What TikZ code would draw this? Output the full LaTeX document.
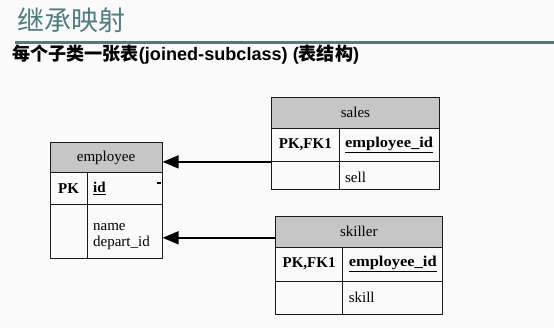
\documentclass[tikz,border=0pt]{standalone}
\usepackage{fontspec}
\setmainfont{Liberation Serif}
\newfontfamily\cjk{Noto Sans CJK SC}
\newfontfamily\lsans{Liberation Sans}
\usetikzlibrary{arrows.meta}
\definecolor{bgc}{HTML}{FAFAFA}
\definecolor{titlec}{HTML}{4E7C80}
\definecolor{headc}{HTML}{C6C6C6}
\definecolor{linec}{HTML}{1A1A1A}
\tikzset{
  cell/.style={draw=linec, line width=0.9pt, inner sep=0pt, anchor=north west, font=\fontsize{15}{17}\selectfont},
  headcell/.style={cell, fill=headc},
  lcell/.style={cell, align=left, inner xsep=6pt},
  fkarrow/.style={draw=black, line width=1.6pt, -{Triangle[length=16pt,width=13pt]}},
}
\begin{document}
\begin{tikzpicture}[x=1pt,y=-1pt]
\useasboundingbox[fill=bgc] (0,0) rectangle (554,328);
% title
\node[anchor=west, inner sep=0pt, text=titlec, font=\cjk\fontsize{27}{30}\selectfont] (title) at (17,20) {继承映射};
\draw[titlec, line width=3pt] (15,43) coordinate (rl) -- (554,43) coordinate (rr);
\node[anchor=west, inner sep=0pt, font=\bfseries\fontsize{18.1}{20}\selectfont] (subtitle) at (12,55)
  {{\cjk 每个子类一张表}{\lsans (joined-subclass) (}{\cjk 表结构}{\lsans )}};
% employee
\node[headcell, minimum width=112.2pt, minimum height=30.6pt] (E-head) at (49.5,141.7) {employee};
\node[cell, minimum width=37.2pt, minimum height=31.7pt, font=\bfseries\fontsize{15}{17}\selectfont] (E-pk) at (49.5,172.3) {PK};
\node[lcell, text width=63pt, minimum height=31.7pt, font=\bfseries\fontsize{15}{17}\selectfont] (E-id) at (86.7,172.3) {\underline{id}};
\node[cell, minimum width=37.2pt, minimum height=54.3pt] (E-pk2) at (49.5,204) {};
\node[lcell, text width=63pt, minimum height=54.3pt] (E-attr) at (86.7,204) {\raisebox{-4pt}[\height][\depth]{\begin{tabular}{@{}l@{}}name\\[-1pt]depart\_id\end{tabular}}};
\draw[line width=1.4pt] (156.5,183) coordinate (t1) -- (160.5,183) coordinate (t2);
% sales
\node[headcell, minimum width=168pt, minimum height=31pt] (S-head) at (271,96.7) {sales};
\node[cell, minimum width=67.7pt, minimum height=33.3pt, font=\bfseries\fontsize{15}{17}\selectfont] (S-pk) at (271,127.7) {PK,FK1};
\node[lcell, text width=88.3pt, minimum height=33.3pt, font=\bfseries\fontsize{15}{17}\selectfont] (S-id) at (338.7,127.7) {\underline{\scalebox{1.1}[1]{employee\_id}}};
\node[cell, minimum width=67.7pt, minimum height=28pt] (S-pk2) at (271,161) {};
\node[lcell, text width=88.3pt, minimum height=28pt] (S-attr) at (338.7,161) {\raisebox{-2pt}[\height][\depth]{sell}};
% skiller
\node[headcell, minimum width=166.7pt, minimum height=30.7pt] (K-head) at (275,216) {skiller};
\node[cell, minimum width=67.3pt, minimum height=34pt, font=\bfseries\fontsize{15}{17}\selectfont] (K-pk) at (275,246.7) {PK,FK1};
\node[lcell, text width=87.4pt, minimum height=34pt, font=\bfseries\fontsize{15}{17}\selectfont] (K-id) at (342.3,246.7) {\underline{\scalebox{1.1}[1]{employee\_id}}};
\node[cell, minimum width=67.3pt, minimum height=33.3pt] (K-pk2) at (275,280.7) {};
\node[lcell, text width=87.4pt, minimum height=33.3pt] (K-attr) at (342.3,280.7) {skill};
% connectors
\draw[fkarrow] (S-pk.south west) -- (E-head.east |- S-pk.south west);
\coordinate (K-src) at ([yshift=-6pt]K-head.west);
\draw[fkarrow] (K-src) -- (E-attr.east |- K-src);
\end{tikzpicture}
\end{document}
